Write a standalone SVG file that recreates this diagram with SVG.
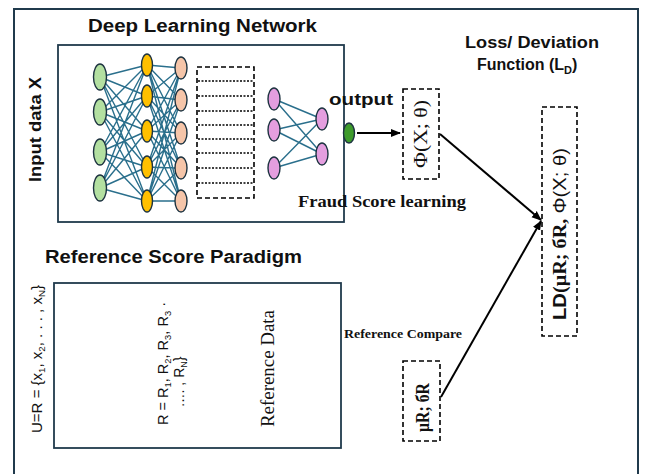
<svg xmlns="http://www.w3.org/2000/svg" width="645" height="474" viewBox="0 0 645 474">
<defs>
<marker id="ah" viewBox="0 0 10 10" refX="9" refY="5" markerWidth="5" markerHeight="5" orient="auto" markerUnits="strokeWidth"><path d="M0,1 L10,5 L0,9 z" fill="#000"/></marker>
<style>
.frame{fill:#fff;stroke:#203a4c;stroke-width:2}
.box{fill:#fff;stroke:#203a4c;stroke-width:1.8}
.dash{fill:#fff;stroke:#000;stroke-width:1.6;stroke-dasharray:5,3}
.dot{stroke:#000;stroke-width:1.5;stroke-dasharray:2,1.5}
.w{stroke:#2a6f8c;stroke-width:1.4}
.n{stroke:#1d3340;stroke-width:1.4}
.g{fill:#b3e0a1}.y{fill:#ffc000}.p{fill:#f5c5a9}.k{fill:#e49edf}.o{fill:#3e9b2c}
.h{font-family:"Liberation Sans",Arial,sans-serif;font-weight:700;fill:#111}
.r{font-family:"Liberation Sans",Arial,sans-serif;fill:#111}
.s{font-family:"Liberation Serif",serif;fill:#111}
.a{stroke:#000;stroke-width:2;fill:none}
</style>
</defs>
<rect x="0" y="0" width="645" height="474" fill="#fff"/>
<rect class="frame" x="14" y="9" width="624" height="480"/>

<g id="dl-network">
<rect class="box" x="58" y="45" width="286" height="177"/>
<g id="weights">
<path class="w" d="M100,77L147,65M100,77L147,96M100,77L147,131M100,77L147,167M100,77L147,201M100,112L147,65M100,112L147,96M100,112L147,131M100,112L147,167M100,112L147,201M100,152L147,65M100,152L147,96M100,152L147,131M100,152L147,167M100,152L147,201M100,188L147,65M100,188L147,96M100,188L147,131M100,188L147,167M100,188L147,201"/>
<path class="w" d="M147,65L181,68M147,65L181,100M147,65L181,133M147,65L181,168M147,65L181,201M147,96L181,68M147,96L181,100M147,96L181,133M147,96L181,168M147,96L181,201M147,131L181,68M147,131L181,100M147,131L181,133M147,131L181,168M147,131L181,201M147,167L181,68M147,167L181,100M147,167L181,133M147,167L181,168M147,167L181,201M147,201L181,68M147,201L181,100M147,201L181,133M147,201L181,168M147,201L181,201"/>
<path class="w" d="M274,99L322,119M274,99L322,154M274,130L322,119M274,130L322,154M274,168L322,119M274,168L322,154"/>
</g>
<g id="layer-input">
<ellipse class="n g" cx="100" cy="77" rx="6.5" ry="13"/>
<ellipse class="n g" cx="100" cy="112" rx="6.5" ry="13"/>
<ellipse class="n g" cx="100" cy="152" rx="6.5" ry="13"/>
<ellipse class="n g" cx="100" cy="188" rx="6.5" ry="13"/>
</g>
<g id="layer-hidden1">
<ellipse class="n y" cx="147" cy="65" rx="5.5" ry="11"/>
<ellipse class="n y" cx="147" cy="96" rx="5.5" ry="11"/>
<ellipse class="n y" cx="147" cy="131" rx="5.5" ry="11"/>
<ellipse class="n y" cx="147" cy="167" rx="5.5" ry="11"/>
<ellipse class="n y" cx="147" cy="201" rx="5.5" ry="11"/>
</g>
<g id="layer-hidden2">
<ellipse class="n p" cx="181" cy="68" rx="6" ry="11"/>
<ellipse class="n p" cx="181" cy="100" rx="6" ry="11"/>
<ellipse class="n p" cx="181" cy="133" rx="6" ry="11"/>
<ellipse class="n p" cx="181" cy="168" rx="6" ry="11"/>
<ellipse class="n p" cx="181" cy="201" rx="6" ry="11"/>
</g>
<g id="hidden-stack">
<rect class="dash" x="197" y="67" width="57" height="131"/>
<path class="dot" d="M198,81H253M198,96H253M198,111H253M198,125H253M198,139H253M198,153H253M198,168H253M198,183H253"/>
</g>
<g id="layer-pink1">
<ellipse class="n k" cx="274" cy="99" rx="6" ry="11"/>
<ellipse class="n k" cx="274" cy="130" rx="6" ry="11"/>
<ellipse class="n k" cx="274" cy="168" rx="6" ry="11"/>
</g>
<g id="layer-pink2">
<ellipse class="n k" cx="322" cy="119" rx="6" ry="11"/>
<ellipse class="n k" cx="322" cy="154" rx="6" ry="11"/>
</g>
<text class="h" x="88" y="32" font-size="18" textLength="229" lengthAdjust="spacingAndGlyphs">Deep Learning Network</text>
<text class="h" transform="translate(41,182) rotate(-90)" font-size="16" textLength="105" lengthAdjust="spacingAndGlyphs">Input data X</text>
<text class="s" x="298" y="207" font-size="16.5" font-weight="700" textLength="168" lengthAdjust="spacingAndGlyphs">Fraud Score learning</text>
</g>

<g id="output-node">
<ellipse class="n o" cx="349" cy="133" rx="5.5" ry="10"/>
<text class="h" x="329" y="105" font-size="17" textLength="64" lengthAdjust="spacingAndGlyphs">output</text>
</g>

<g id="phi-box">
<rect class="dash" x="403" y="89" width="36" height="90"/>
<text class="s" transform="translate(427,168) rotate(-90)" font-size="18" textLength="68" lengthAdjust="spacingAndGlyphs">Φ(X; θ)</text>
</g>

<g id="loss-box">
<text class="h" x="465" y="48" font-size="16" textLength="134" lengthAdjust="spacingAndGlyphs">Loss/ Deviation</text>
<text class="h" x="477" y="70" font-size="16">Function (L<tspan font-size="11" dy="4">D</tspan><tspan dy="-4">)</tspan></text>
<rect class="dash" x="542" y="107" width="35" height="229" stroke-width="2"/>
<text transform="translate(566,320) rotate(-90)" font-size="18" textLength="172" lengthAdjust="spacingAndGlyphs"><tspan class="h">LD</tspan><tspan class="s" font-weight="700">(μR; бR, </tspan><tspan class="r">Φ(X; θ)</tspan></text>
</g>

<g id="reference-paradigm">
<text class="h" x="45" y="263" font-size="18" textLength="257" lengthAdjust="spacingAndGlyphs">Reference Score Paradigm</text>
<text class="r" transform="translate(42,433) rotate(-90)" font-size="14" textLength="148" lengthAdjust="spacingAndGlyphs">U=R = {x<tspan font-size="9" dy="3">1</tspan><tspan dy="-3">, x</tspan><tspan font-size="9" dy="3">2</tspan><tspan dy="-3">, . . . , x</tspan><tspan font-size="9" dy="3">N</tspan><tspan dy="-3">}</tspan></text>
<rect class="box" x="54" y="283" width="287" height="165"/>
<text class="r" transform="translate(168,425) rotate(-90)" font-size="14" textLength="123" lengthAdjust="spacingAndGlyphs">R = R<tspan font-size="9" dy="3">1</tspan><tspan dy="-3">, R</tspan><tspan font-size="9" dy="3">2</tspan><tspan dy="-3">, R</tspan><tspan font-size="9" dy="3">3</tspan><tspan dy="-3">, R</tspan><tspan font-size="9" dy="3">3</tspan><tspan dy="-3"> ·</tspan></text>
<text class="r" transform="translate(184,382) rotate(-90)" font-size="14" text-anchor="middle">…. , R<tspan font-size="9" dy="3">N</tspan><tspan dy="-3">}</tspan></text>
<text class="s" transform="translate(274,427) rotate(-90)" font-size="19" textLength="117" lengthAdjust="spacingAndGlyphs">Reference Data</text>
</g>

<g id="mu-box">
<text class="s" x="344" y="338" font-size="12" font-weight="700" textLength="118" lengthAdjust="spacingAndGlyphs">Reference Compare</text>
<rect class="dash" x="403" y="361" width="37" height="80"/>
<text class="s" transform="translate(429,432) rotate(-90)" font-size="18" font-weight="700" textLength="49" lengthAdjust="spacingAndGlyphs">μR; бR</text>
</g>

<g id="connectors">
<line class="a" x1="357" y1="133" x2="400" y2="133" marker-end="url(#ah)"/>
<line class="a" x1="440" y1="134" x2="541" y2="220" marker-end="url(#ah)"/>
<line class="a" x1="441" y1="397" x2="541" y2="221" marker-end="url(#ah)"/>
</g>
</svg>
